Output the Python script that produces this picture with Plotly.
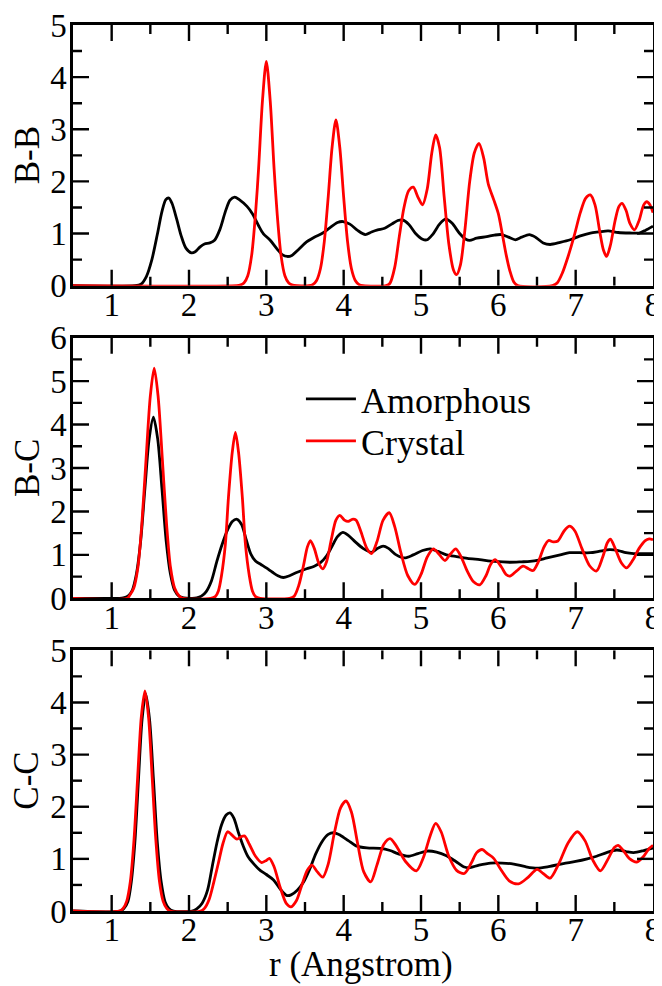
import plotly.graph_objects as go
from plotly.subplots import make_subplots

# ---------------- data ----------------
bb_amor_r = [0.5, 1.30, 1.38, 1.45, 1.52, 1.59, 1.65, 1.70, 1.74, 1.78, 1.84, 1.90, 1.96, 2.03, 2.08, 2.14,
             2.20, 2.27, 2.33, 2.40, 2.47, 2.53, 2.59, 2.65, 2.75, 2.82, 2.90, 2.96, 3.05, 3.14, 3.21, 3.27,
             3.33, 3.42, 3.52, 3.62, 3.73, 3.82, 3.92, 3.99, 4.08, 4.18, 4.28, 4.36, 4.44, 4.53, 4.62, 4.70,
             4.76, 4.84, 4.93, 5.02, 5.08, 5.15, 5.24, 5.32, 5.40, 5.50, 5.58, 5.63, 5.72, 5.85, 5.95, 6.04,
             6.13, 6.22, 6.30, 6.40, 6.48, 6.58, 6.67, 6.80, 6.93, 7.05, 7.19, 7.30, 7.42, 7.55, 7.70, 7.82,
             7.90, 8.0]
bb_amor_g = [0, 0, 0.03, 0.18, 0.50, 0.98, 1.42, 1.65, 1.68, 1.58, 1.28, 0.95, 0.72, 0.63, 0.65, 0.74,
             0.80, 0.82, 0.87, 1.08, 1.42, 1.64, 1.70, 1.65, 1.52, 1.38, 1.15, 1.00, 0.87, 0.70, 0.59, 0.56,
             0.58, 0.70, 0.84, 0.93, 1.01, 1.11, 1.21, 1.23, 1.18, 1.06, 0.98, 1.03, 1.07, 1.10, 1.18, 1.25,
             1.26, 1.18, 1.00, 0.89, 0.88, 0.98, 1.18, 1.28, 1.20, 1.00, 0.89, 0.87, 0.91, 0.94, 0.97, 0.98,
             0.93, 0.88, 0.93, 0.98, 0.93, 0.82, 0.79, 0.83, 0.88, 0.95, 1.01, 1.03, 1.05, 1.02, 1.01, 1.01,
             1.06, 1.14]

bb_cry_r = [0.5, 2.62, 2.66, 2.71, 2.76, 2.81, 2.86, 2.90, 2.95, 3.00, 3.05, 3.10, 3.14, 3.19, 3.24, 3.29,
            3.34, 3.40, 3.55, 3.60, 3.65, 3.70, 3.75, 3.80, 3.85, 3.90, 3.95, 4.00, 4.05, 4.10, 4.15, 4.20,
            4.25, 4.55, 4.60, 4.66, 4.72, 4.78, 4.84, 4.90, 4.96, 5.02, 5.08, 5.14, 5.19, 5.24, 5.30, 5.36,
            5.42, 5.46, 5.51, 5.57, 5.63, 5.69, 5.75, 5.81, 5.87, 5.94, 6.00, 6.05, 6.10, 6.15, 6.20, 6.25,
            6.70, 6.76, 6.83, 6.90, 6.98, 7.06, 7.13, 7.19, 7.25, 7.31, 7.36, 7.40, 7.45, 7.51, 7.56, 7.60,
            7.65, 7.70, 7.76, 7.82, 7.88, 7.92, 7.96, 8.0]
bb_cry_g = [0, 0, 0.01, 0.05, 0.19, 0.58, 1.38, 2.25, 3.55, 4.30, 3.55, 2.25, 1.38, 0.58, 0.19, 0.05,
            0.01, 0, 0, 0.02, 0.10, 0.33, 0.85, 1.70, 2.65, 3.18, 2.65, 1.70, 0.85, 0.33, 0.10, 0.02,
            0, 0, 0.05, 0.35, 0.95, 1.50, 1.82, 1.89, 1.70, 1.55, 1.85, 2.55, 2.89, 2.65, 1.70, 0.80,
            0.30, 0.21, 0.40, 1.10, 2.00, 2.55, 2.73, 2.45, 1.95, 1.65, 1.38, 1.00, 0.60, 0.28, 0.07, 0,
            0, 0.05, 0.25, 0.55, 0.95, 1.40, 1.68, 1.74, 1.55, 1.05, 0.68, 0.56, 0.78, 1.25, 1.52, 1.58,
            1.45, 1.20, 1.07, 1.25, 1.55, 1.61, 1.55, 1.40]

bc_amor_r = [0.5, 1.10, 1.15, 1.21, 1.265, 1.32, 1.375, 1.43, 1.485, 1.54, 1.595, 1.65, 1.705, 1.76, 1.815,
             1.87, 1.93, 2.04, 2.10, 2.16, 2.22, 2.29, 2.36, 2.43, 2.50, 2.56, 2.62, 2.68, 2.74, 2.80, 2.86,
             2.93, 3.00, 3.08, 3.15, 3.22, 3.30, 3.40, 3.52, 3.62, 3.70, 3.78, 3.85, 3.92, 3.99, 4.06, 4.15,
             4.25, 4.36, 4.44, 4.51, 4.58, 4.68, 4.79, 4.90, 5.02, 5.12, 5.22, 5.33, 5.46, 5.60, 5.76, 5.95,
             6.15, 6.30, 6.41, 6.52, 6.63, 6.80, 6.92, 7.05, 7.19, 7.30, 7.44, 7.55, 7.65, 7.75, 8.0]
bc_amor_g = [0, 0, 0.01, 0.05, 0.18, 0.56, 1.32, 2.53, 3.67, 4.17, 3.67, 2.53, 1.32, 0.56, 0.18,
             0.05, 0.01, 0, 0.01, 0.05, 0.15, 0.40, 0.85, 1.25, 1.58, 1.77, 1.82, 1.70, 1.35, 1.02, 0.86,
             0.78, 0.70, 0.60, 0.52, 0.48, 0.52, 0.60, 0.68, 0.74, 0.82, 0.98, 1.20, 1.42, 1.52, 1.45, 1.30,
             1.15, 1.06, 1.15, 1.20, 1.15, 1.00, 0.93, 1.00, 1.10, 1.14, 1.08, 1.00, 0.96, 0.92, 0.89, 0.85,
             0.83, 0.84, 0.85, 0.88, 0.93, 1.00, 1.05, 1.05, 1.05, 1.08, 1.12, 1.10, 1.05, 1.03, 1.03]

bc_cry_r = [0.5, 1.20, 1.23, 1.285, 1.34, 1.39, 1.445, 1.50, 1.55, 1.60, 1.655, 1.71, 1.76, 1.815, 1.87,
            1.92, 2.28, 2.34, 2.38, 2.42, 2.47, 2.51, 2.56, 2.60, 2.64, 2.69, 2.73, 2.78, 2.82, 2.86, 2.92,
            3.30, 3.36, 3.42, 3.48, 3.53, 3.57, 3.62, 3.68, 3.73, 3.78, 3.84, 3.90, 3.95, 4.01, 4.06, 4.11,
            4.16, 4.22, 4.30, 4.36, 4.43, 4.51, 4.59, 4.66, 4.74, 4.83, 4.92, 5.00, 5.08, 5.16, 5.24, 5.31,
            5.38, 5.45, 5.52, 5.60, 5.68, 5.76, 5.84, 5.90, 5.96, 6.04, 6.10, 6.15, 6.23, 6.32, 6.39, 6.45,
            6.52, 6.59, 6.65, 6.71, 6.77, 6.85, 6.92, 6.99, 7.08, 7.18, 7.27, 7.35, 7.41, 7.45, 7.51, 7.59,
            7.66, 7.74, 7.82, 7.90, 7.95, 8.0]
bc_cry_g = [0, 0, 0.06, 0.23, 0.72, 1.71, 3.21, 4.66, 5.30, 4.66, 3.21, 1.71, 0.72, 0.23, 0.06,
            0, 0, 0.04, 0.17, 0.52, 1.24, 2.32, 3.37, 3.82, 3.37, 2.32, 1.24, 0.52, 0.17, 0.04, 0,
            0, 0.05, 0.30, 0.75, 1.18, 1.33, 1.15, 0.80, 0.68, 0.85, 1.35, 1.80, 1.91, 1.80, 1.77, 1.82,
            1.80, 1.55, 1.15, 1.03, 1.30, 1.80, 1.97, 1.65, 1.05, 0.52, 0.32, 0.55, 0.95, 1.14, 1.00, 0.87,
            1.02, 1.14, 0.95, 0.62, 0.38, 0.31, 0.52, 0.78, 0.89, 0.72, 0.55, 0.51, 0.62, 0.74, 0.68, 0.64,
            0.85, 1.18, 1.33, 1.30, 1.32, 1.55, 1.66, 1.55, 1.15, 0.75, 0.63, 0.95, 1.28, 1.36, 1.15, 0.82,
            0.70, 0.88, 1.15, 1.33, 1.37, 1.35]

cc_amor_r = [0.5, 1.11, 1.16, 1.21, 1.254, 1.30, 1.347, 1.393, 1.44, 1.49, 1.54, 1.59, 1.64, 1.69, 1.74,
             1.80, 2.04, 2.10, 2.17, 2.24, 2.30, 2.36, 2.42, 2.48, 2.53, 2.58, 2.64, 2.70, 2.76, 2.84, 2.92,
             3.00, 3.09, 3.18, 3.26, 3.32, 3.40, 3.48, 3.56, 3.64, 3.72, 3.80, 3.88, 3.96, 4.06, 4.16, 4.30,
             4.47, 4.60, 4.70, 4.84, 4.96, 5.08, 5.20, 5.33, 5.45, 5.55, 5.62, 5.75, 5.90, 6.05, 6.20, 6.35,
             6.50, 6.65, 6.84, 7.00, 7.15, 7.27, 7.40, 7.53, 7.65, 7.75, 7.88, 8.0]
cc_amor_g = [0, 0, 0.05, 0.18, 0.56, 1.32, 2.53, 3.67, 4.17, 3.67, 2.53, 1.32, 0.56, 0.18, 0.05,
             0, 0, 0.04, 0.15, 0.40, 0.85, 1.30, 1.65, 1.84, 1.88, 1.78, 1.50, 1.25, 1.05, 0.90, 0.78,
             0.70, 0.60, 0.42, 0.30, 0.31, 0.40, 0.55, 0.80, 1.10, 1.33, 1.47, 1.50, 1.45, 1.35, 1.25, 1.21,
             1.20, 1.16, 1.10, 1.05, 1.10, 1.15, 1.13, 1.06, 0.95, 0.85, 0.83, 0.88, 0.92, 0.92, 0.90, 0.85,
             0.82, 0.85, 0.91, 0.95, 1.00, 1.05, 1.12, 1.17, 1.14, 1.12, 1.16, 1.21]

cc_cry_r = [0.5, 1.10, 1.148, 1.195, 1.242, 1.289, 1.336, 1.383, 1.43, 1.477, 1.524, 1.571, 1.618, 1.665,
            1.712, 1.76, 2.15, 2.20, 2.26, 2.32, 2.38, 2.44, 2.50, 2.56, 2.62, 2.68, 2.72, 2.78, 2.86, 2.94,
            3.00, 3.04, 3.10, 3.18, 3.26, 3.32, 3.39, 3.46, 3.53, 3.59, 3.66, 3.73, 3.80, 3.88, 3.96, 4.03,
            4.10, 4.18, 4.26, 4.35, 4.43, 4.52, 4.60, 4.68, 4.80, 4.94, 5.03, 5.12, 5.19, 5.26, 5.36, 5.46,
            5.56, 5.65, 5.72, 5.79, 5.86, 5.94, 6.03, 6.14, 6.26, 6.38, 6.50, 6.58, 6.67, 6.78, 6.90, 7.02,
            7.12, 7.22, 7.32, 7.42, 7.50, 7.55, 7.62, 7.70, 7.79, 7.88, 7.95, 8.0]
cc_cry_g = [0, 0, 0.05, 0.19, 0.57, 1.37, 2.56, 3.72, 4.22, 3.72, 2.56, 1.37, 0.57, 0.19,
            0.05, 0, 0, 0.05, 0.22, 0.55, 0.92, 1.30, 1.52, 1.45, 1.38, 1.43, 1.44, 1.28, 1.05, 0.93,
            0.97, 1.01, 0.85, 0.45, 0.14, 0.08, 0.20, 0.50, 0.78, 0.88, 0.75, 0.65, 0.90, 1.50, 1.98, 2.11,
            1.90, 1.30, 0.75, 0.56, 0.88, 1.28, 1.39, 1.25, 0.95, 0.77, 1.02, 1.45, 1.68, 1.52, 1.05, 0.78,
            0.72, 0.92, 1.12, 1.18, 1.10, 1.01, 0.80, 0.58, 0.52, 0.64, 0.80, 0.72, 0.63, 0.90, 1.30, 1.52,
            1.35, 0.98, 0.77, 1.00, 1.22, 1.26, 1.15, 1.00, 0.94, 1.05, 1.20, 1.26]

panel_labels = ["B-B", "B-C", "C-C"]
y_max = [5, 6, 5]
x_range = [0.5, 8]
series_names = ["Amorphous", "Crystal"]
x_title = "r (Angstrom)"
x_major_ticks = [1, 2, 3, 4, 5, 6, 7]
x_minor_ticks = [1.5, 2.5, 3.5, 4.5, 5.5, 6.5, 7.5]
y_major_ticks = [[1, 2, 3, 4], [1, 2, 3, 4, 5], [1, 2, 3, 4]]
y_minor_ticks = [[0.5, 1.5, 2.5, 3.5, 4.5], [0.5, 1.5, 2.5, 3.5, 4.5, 5.5], [0.5, 1.5, 2.5, 3.5, 4.5]]

# ---------------- figure ----------------
FONT = "Liberation Serif"
BLACK = "#000000"
RED = "#ff0000"
MAJOR_LEN, MINOR_LEN, TICK_W = 16, 9, 2.4   # pixels
W, H = 654, 978
M_L, M_R, M_T, M_B = 65, 9, 17, 75
V_SPACING = 0.0587

plot_w = W - M_L - M_R
plot_h = H - M_T - M_B
panel_h = plot_h * (1 - 2 * V_SPACING) / 3
px_per_x = plot_w / (x_range[1] - x_range[0])

panels = [
    (bb_amor_r, bb_amor_g, bb_cry_r, bb_cry_g),
    (bc_amor_r, bc_amor_g, bc_cry_r, bc_cry_g),
    (cc_amor_r, cc_amor_g, cc_cry_r, cc_cry_g),
]

fig = make_subplots(rows=3, cols=1, vertical_spacing=V_SPACING)

for i, (ar, ag, cr, cg) in enumerate(panels):
    fig.add_trace(go.Scatter(x=ar, y=ag, mode="lines", name=series_names[0],
                             line=dict(color=BLACK, width=2.8, shape="spline", smoothing=0.8),
                             showlegend=(i == 1), legend="legend"), row=i + 1, col=1)
    fig.add_trace(go.Scatter(x=cr, y=cg, mode="lines", name=series_names[1],
                             line=dict(color=RED, width=2.8, shape="spline", smoothing=0.8),
                             showlegend=(i == 1), legend="legend2"), row=i + 1, col=1)

# inward tick marks on all four sides (drawn through each panel's own axes)
for i in range(3):
    px_per_y = panel_h / y_max[i]
    tx, ty = [], []
    for ticks, ln in ((x_major_ticks, MAJOR_LEN), (x_minor_ticks, MINOR_LEN)):
        dy = ln / px_per_y
        for v in ticks:
            tx += [v, v, None, v, v, None]
            ty += [0, dy, None, y_max[i] - dy, y_max[i], None]
    for ticks, ln in ((y_major_ticks[i], MAJOR_LEN), (y_minor_ticks[i], MINOR_LEN)):
        dx = ln / px_per_x
        for v in ticks:
            tx += [x_range[0], x_range[0] + dx, None, x_range[1] - dx, x_range[1], None]
            ty += [v, v, None, v, v, None]
    fig.add_trace(go.Scatter(x=tx, y=ty, mode="lines", line=dict(color=BLACK, width=TICK_W),
                             hoverinfo="skip", showlegend=False, connectgaps=False),
                  row=i + 1, col=1)

axis_base = dict(dtick=1, tick0=0, showline=True, linecolor=BLACK, linewidth=2.5, mirror=True,
                 ticks="", showgrid=False, zeroline=False, automargin=False,
                 ticklabeloverflow="allow",
                 tickfont=dict(family=FONT, size=33, color=BLACK))
for i in range(3):
    fig.update_xaxes(range=x_range, ticklabelstandoff=-12, **axis_base, row=i + 1, col=1)
    fig.update_yaxes(range=[0, y_max[i]], ticklabelstandoff=-3, **axis_base, row=i + 1, col=1)

panel_centers = [1 - (0.5 * (1 - 2 * V_SPACING) / 3),
                 0.5,
                 0.5 * (1 - 2 * V_SPACING) / 3]
annotations = []
for i in range(3):
    annotations.append(dict(text=panel_labels[i], x=-0.0793, y=panel_centers[i],
                            xref="paper", yref="paper", xanchor="center", yanchor="middle",
                            textangle=-90, showarrow=False,
                            font=dict(family=FONT, size=35, color=BLACK)))
annotations.append(dict(text=x_title, x=0.496, y=-M_B / plot_h, xref="paper", yref="paper",
                        xanchor="center", yanchor="bottom", showarrow=False,
                        font=dict(family=FONT, size=35, color=BLACK)))

legend_common = dict(xanchor="left", yanchor="middle", itemwidth=50,
                     font=dict(family=FONT, size=36, color=BLACK),
                     bgcolor="rgba(0,0,0,0)", borderwidth=0)
fig.update_layout(
    width=W, height=H,
    margin=dict(l=M_L, r=M_R, t=M_T, b=M_B),
    plot_bgcolor="white", paper_bgcolor="white",
    font=dict(family=FONT, color=BLACK),
    annotations=annotations,
    legend=dict(x=0.393, y=0.5779, **legend_common),
    legend2=dict(x=0.393, y=0.5304, **legend_common),
)
fig.write_html("out.html")
